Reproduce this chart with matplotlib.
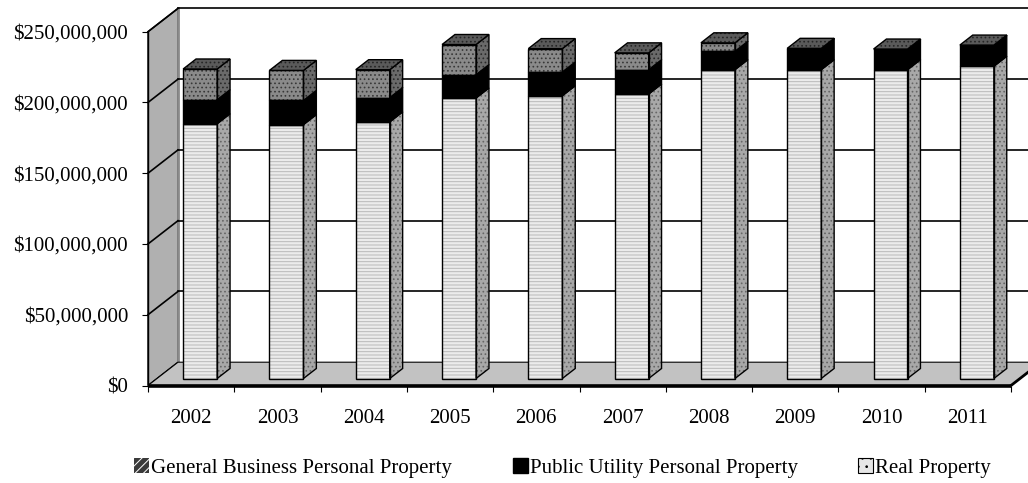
import matplotlib
matplotlib.use("Agg")
import matplotlib.pyplot as plt
from matplotlib.patches import Polygon, Rectangle, Patch
import numpy as np

# ---------------- data (millions of dollars) ----------------
years = ["2002", "2003", "2004", "2005", "2006", "2007", "2008", "2009", "2010", "2011"]
real_property = [180.0, 179.4, 181.3, 198.2, 199.8, 201.0, 218.2, 218.2, 218.2, 220.6]
public_utility = [17.0, 17.1, 17.2, 16.5, 16.8, 17.2, 13.0, 14.7, 14.2, 14.6]
general_business = [21.7, 21.2, 19.7, 21.3, 16.5, 11.9, 6.0, 0.4, 0.4, 0.4]
series_names = ["General Business Personal Property", "Public Utility Personal Property", "Real Property"]
ytick_vals = [0, 50, 100, 150, 200, 250]
ytick_labels = ["$0", "$50,000,000", "$100,000,000", "$150,000,000", "$200,000,000", "$250,000,000"]

plt.rcParams["font.family"] = ["Liberation Serif", "DejaVu Serif"]
plt.rcParams["hatch.linewidth"] = 0.7

W, H = 1028, 483
fig = plt.figure(figsize=(W / 100, H / 100), dpi=100)
# front plane of the plot
left_px, right_px, top_px, bot_px = 148, 1011, 31.7, 385.5
ax = fig.add_axes([left_px / W, 1 - bot_px / H, (right_px - left_px) / W, (bot_px - top_px) / H])
ax.set_xlim(-0.5, 9.5)
ax.set_ylim(0, 250)

cat_per_px = 10 / (right_px - left_px)
val_per_px = 250 / (bot_px - top_px)
Dx = 30 * cat_per_px
Dy = 23.3 * val_per_px
f0, f1 = 0.30, 0.73
bw = 34 * cat_per_px


def P(x, v, f):
    return (x + f * Dx, v + f * Dy)


def poly(pts, face, hatch=None, hcolor=None, z=1.0, lw=0.8, ec="black"):
    if hatch:
        ax.add_patch(Polygon(pts, closed=True, facecolor=face, edgecolor=hcolor, hatch=hatch,
                             linewidth=0, zorder=z, clip_on=False))
        ax.add_patch(Polygon(pts, closed=True, facecolor="none", edgecolor=ec,
                             linewidth=lw, zorder=z + 0.01, clip_on=False))
    else:
        ax.add_patch(Polygon(pts, closed=True, facecolor=face, edgecolor=ec,
                             linewidth=lw, zorder=z, clip_on=False))


# ---------------- walls & floor ----------------
xl, xr = -0.5, 9.5
poly([P(xl, 0, 0), P(xl, 250, 0), P(xl, 250, 1), P(xl, 0, 1)], "#b0b0b0", z=0.5, lw=1.0)
ax.plot(*zip(P(xl, 0, 1), P(xl, 250, 1)), color="#8a8a8a", lw=2.0, zorder=0.6, clip_on=False)
for v in ytick_vals[1:]:
    ax.plot(*zip(P(xl, v, 0), P(xl, v, 1)), color="black", lw=1.2, zorder=0.7, clip_on=False)
    ax.plot(*zip(P(xl, v, 1), P(xr + 0.2, v, 1)), color="black", lw=1.2, zorder=0.7, clip_on=False)

poly([P(xl, 0, 0), P(xr, 0, 0), P(xr, 0, 1), P(xl, 0, 1)], "#c2c2c2", z=0.8, lw=0.8)
ax.plot(*zip(P(xl, 0, 0), P(xr, 0, 0)), color="black", lw=2.6, zorder=0.85, clip_on=False,
        solid_capstyle="butt")
ax.plot(*zip(P(xr, 0, 0), P(xr, 0, 1)), color="black", lw=2.0, zorder=0.85, clip_on=False)

# ---------------- bars ----------------
styles = {
    "real": dict(front=("#ebebeb", "-----", "#b8b8b8"), side=("#a8a8a8", "....", "#666666")),
    "pu": dict(front=("#000000", None, None), side=("#000000", None, None)),
    "gb": dict(front=("#8a8a8a", "....", "#383838"), side=("#6a6a6a", "....", "#2a2a2a"),
               top=("#5a5a5a", "....", "#262626")),
}

for i in range(len(years)):
    segs = [("real", 0.0, real_property[i]),
            ("pu", real_property[i], real_property[i] + public_utility[i]),
            ("gb", real_property[i] + public_utility[i],
             real_property[i] + public_utility[i] + general_business[i])]
    x0 = i - bw / 2
    x1 = i + bw / 2
    z = 2 + i * 0.1
    for name, b, t in segs:
        st = styles[name]
        fx0, fb = P(x0, b, f0)
        fc, hatch, hc = st["front"]
        ax.bar(fx0, t - b, width=bw, bottom=fb, align="edge", color=fc, hatch=hatch,
               edgecolor=hc if hatch else "black", linewidth=0, zorder=z, clip_on=False)
        ax.add_patch(Rectangle((fx0, fb), bw, t - b, facecolor="none", edgecolor="black",
                               linewidth=1.0, zorder=z + 0.02, clip_on=False))
        fc, hatch, hc = st["side"]
        poly([P(x1, b, f0), P(x1, t, f0), P(x1, t, f1), P(x1, b, f1)], fc, hatch, hc, z=z + 0.01, lw=1.0)
    top = segs[-1][2]
    fc, hatch, hc = styles["gb"]["top"]
    poly([P(x0, top, f0), P(x1, top, f0), P(x1, top, f1), P(x0, top, f1)], fc, hatch, hc, z=z + 0.03, lw=1.0)

# ---------------- axes styling ----------------
for s in ["top", "right", "bottom"]:
    ax.spines[s].set_visible(False)
ax.spines["left"].set_linewidth(1.0)
ax.spines["left"].set_zorder(5)
ax.set_yticks(ytick_vals)
ax.set_yticklabels(ytick_labels, fontsize=15)
ax.tick_params(axis="y", direction="out", length=4.3, width=0.8, pad=10)
ax.set_xticks(range(len(years)))
ax.set_xticklabels(years, fontsize=15)
ax.set_xticks(np.arange(-0.5, 10, 1.0), minor=True)
ax.tick_params(axis="x", which="major", length=0, pad=17)
ax.tick_params(axis="x", which="minor", direction="out", length=4.3, width=0.8, pad=0)
ax.patch.set_visible(False)

# ---------------- legend ----------------
handles = [
    Patch(facecolor="#3a3a3a", edgecolor="white", hatch="////", linewidth=0.0),
    Patch(facecolor="black", edgecolor="black"),
    Patch(facecolor="#e6e6e6", edgecolor="black", hatch="..", linewidth=0.8),
]
marker_x = [134, 513, 858]
for h, name, mx in zip(handles, series_names, marker_x):
    fig.legend([h], [name], loc="center left", bbox_to_anchor=(mx / W, 1 - 468 / H),
               frameon=False, fontsize=15, handlelength=0.7, handleheight=0.7,
               handletextpad=0.12, borderpad=0, borderaxespad=0)

fig.savefig("out.png", dpi=100)
